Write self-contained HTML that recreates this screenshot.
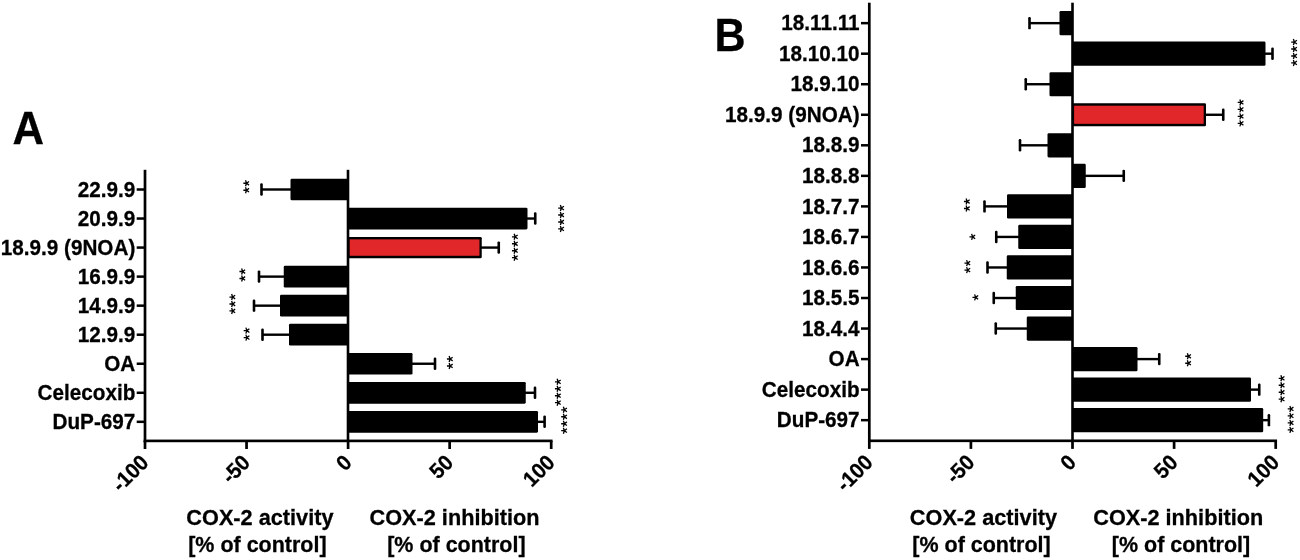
<!DOCTYPE html>
<html><head><meta charset="utf-8"><title>COX-2 activity / inhibition</title>
<style>html,body{margin:0;padding:0;background:#fff;}body{width:1300px;height:560px;overflow:hidden;}svg{display:block;will-change:transform;} svg text{font-family:"Liberation Sans", sans-serif;font-weight:700;fill:#000;stroke:#000;stroke-width:0.28px;} svg text.st{font-weight:400;stroke:#000;stroke-width:0.35px;}</style></head><body>
<svg width="1300" height="560" viewBox="0 0 1300 560">
<rect x="0" y="0" width="1300" height="560" fill="#ffffff"/>
<g id="panelA">
<rect x="261.50" y="188.30" width="30.00" height="2.40" fill="#000" />
<rect x="260.20" y="183.30" width="2.60" height="12.40" fill="#000" rx="1.2"/>
<rect x="290.50" y="178.65" width="57.50" height="21.70" fill="#000" rx="1.3"/>
<path d="M246.50 183.27L243.35 183.27M246.50 183.27L245.53 180.27M246.50 183.27L249.05 181.42M246.50 183.27L249.05 185.12M246.50 183.27L245.53 186.27M246.50 190.23L243.35 190.23M246.50 190.23L245.53 187.23M246.50 190.23L249.05 188.38M246.50 190.23L249.05 192.08M246.50 190.23L245.53 193.23" stroke="#000" stroke-width="1.3" fill="none"/>
<rect x="526.50" y="217.34" width="8.75" height="2.40" fill="#000" />
<rect x="533.95" y="212.34" width="2.60" height="12.40" fill="#000" rx="1.2"/>
<rect x="348.00" y="207.69" width="179.50" height="21.70" fill="#000" rx="1.3"/>
<path d="M561.35 208.06L558.20 208.06M561.35 208.06L560.38 205.06M561.35 208.06L563.90 206.21M561.35 208.06L563.90 209.91M561.35 208.06L560.38 211.06M561.35 215.02L558.20 215.02M561.35 215.02L560.38 212.02M561.35 215.02L563.90 213.17M561.35 215.02L563.90 216.87M561.35 215.02L560.38 218.02M561.35 221.98L558.20 221.98M561.35 221.98L560.38 218.98M561.35 221.98L563.90 220.13M561.35 221.98L563.90 223.83M561.35 221.98L560.38 224.98M561.35 228.94L558.20 228.94M561.35 228.94L560.38 225.94M561.35 228.94L563.90 227.09M561.35 228.94L563.90 230.79M561.35 228.94L560.38 231.94" stroke="#000" stroke-width="1.3" fill="none"/>
<rect x="480.75" y="246.38" width="18.00" height="2.40" fill="#000" />
<rect x="497.45" y="241.38" width="2.60" height="12.40" fill="#000" rx="1.2"/>
<rect x="348.00" y="236.88" width="133.75" height="21.40" fill="#000" rx="1.3"/>
<rect x="349.60" y="239.38" width="129.85" height="16.40" fill="#e2272a" />
<path d="M515.10 236.81L511.95 236.81M515.10 236.81L514.13 233.81M515.10 236.81L517.65 234.96M515.10 236.81L517.65 238.66M515.10 236.81L514.13 239.81M515.10 243.77L511.95 243.77M515.10 243.77L514.13 240.77M515.10 243.77L517.65 241.92M515.10 243.77L517.65 245.62M515.10 243.77L514.13 246.77M515.10 250.73L511.95 250.73M515.10 250.73L514.13 247.73M515.10 250.73L517.65 248.88M515.10 250.73L517.65 252.58M515.10 250.73L514.13 253.73M515.10 257.69L511.95 257.69M515.10 257.69L514.13 254.69M515.10 257.69L517.65 255.84M515.10 257.69L517.65 259.54M515.10 257.69L514.13 260.69" stroke="#000" stroke-width="1.3" fill="none"/>
<rect x="259.00" y="275.42" width="25.75" height="2.40" fill="#000" />
<rect x="257.70" y="270.42" width="2.60" height="12.40" fill="#000" rx="1.2"/>
<rect x="283.75" y="265.77" width="64.25" height="21.70" fill="#000" rx="1.3"/>
<path d="M242.60 271.52L239.45 271.52M242.60 271.52L241.63 268.52M242.60 271.52L245.15 269.67M242.60 271.52L245.15 273.37M242.60 271.52L241.63 274.52M242.60 278.48L239.45 278.48M242.60 278.48L241.63 275.48M242.60 278.48L245.15 276.63M242.60 278.48L245.15 280.33M242.60 278.48L241.63 281.48" stroke="#000" stroke-width="1.3" fill="none"/>
<rect x="254.00" y="304.46" width="27.00" height="2.40" fill="#000" />
<rect x="252.70" y="299.46" width="2.60" height="12.40" fill="#000" rx="1.2"/>
<rect x="280.00" y="294.81" width="68.00" height="21.70" fill="#000" rx="1.3"/>
<path d="M232.60 297.04L229.45 297.04M232.60 297.04L231.63 294.04M232.60 297.04L235.15 295.19M232.60 297.04L235.15 298.89M232.60 297.04L231.63 300.04M232.60 304.00L229.45 304.00M232.60 304.00L231.63 301.00M232.60 304.00L235.15 302.15M232.60 304.00L235.15 305.85M232.60 304.00L231.63 307.00M232.60 310.96L229.45 310.96M232.60 310.96L231.63 307.96M232.60 310.96L235.15 309.11M232.60 310.96L235.15 312.81M232.60 310.96L231.63 313.96" stroke="#000" stroke-width="1.3" fill="none"/>
<rect x="262.50" y="333.50" width="27.50" height="2.40" fill="#000" />
<rect x="261.20" y="328.50" width="2.60" height="12.40" fill="#000" rx="1.2"/>
<rect x="289.00" y="323.85" width="59.00" height="21.70" fill="#000" rx="1.3"/>
<path d="M246.85 330.62L243.70 330.62M246.85 330.62L245.88 327.62M246.85 330.62L249.40 328.77M246.85 330.62L249.40 332.47M246.85 330.62L245.88 333.62M246.85 337.58L243.70 337.58M246.85 337.58L245.88 334.58M246.85 337.58L249.40 335.73M246.85 337.58L249.40 339.43M246.85 337.58L245.88 340.58" stroke="#000" stroke-width="1.3" fill="none"/>
<rect x="411.50" y="362.54" width="23.50" height="2.40" fill="#000" />
<rect x="433.70" y="357.54" width="2.60" height="12.40" fill="#000" rx="1.2"/>
<rect x="348.00" y="352.89" width="64.50" height="21.70" fill="#000" rx="1.3"/>
<path d="M450.10 359.02L446.95 359.02M450.10 359.02L449.13 356.02M450.10 359.02L452.65 357.17M450.10 359.02L452.65 360.87M450.10 359.02L449.13 362.02M450.10 365.98L446.95 365.98M450.10 365.98L449.13 362.98M450.10 365.98L452.65 364.13M450.10 365.98L452.65 367.83M450.10 365.98L449.13 368.98" stroke="#000" stroke-width="1.3" fill="none"/>
<rect x="524.75" y="391.58" width="10.25" height="2.40" fill="#000" />
<rect x="533.70" y="386.58" width="2.60" height="12.40" fill="#000" rx="1.2"/>
<rect x="348.00" y="381.93" width="177.75" height="21.70" fill="#000" rx="1.3"/>
<path d="M558.10 381.81L554.95 381.81M558.10 381.81L557.13 378.81M558.10 381.81L560.65 379.96M558.10 381.81L560.65 383.66M558.10 381.81L557.13 384.81M558.10 388.77L554.95 388.77M558.10 388.77L557.13 385.77M558.10 388.77L560.65 386.92M558.10 388.77L560.65 390.62M558.10 388.77L557.13 391.77M558.10 395.73L554.95 395.73M558.10 395.73L557.13 392.73M558.10 395.73L560.65 393.88M558.10 395.73L560.65 397.58M558.10 395.73L557.13 398.73M558.10 402.69L554.95 402.69M558.10 402.69L557.13 399.69M558.10 402.69L560.65 400.84M558.10 402.69L560.65 404.54M558.10 402.69L557.13 405.69" stroke="#000" stroke-width="1.3" fill="none"/>
<rect x="537.00" y="420.62" width="7.60" height="2.40" fill="#000" />
<rect x="543.30" y="415.62" width="2.60" height="12.40" fill="#000" rx="1.2"/>
<rect x="348.00" y="410.97" width="190.00" height="21.70" fill="#000" rx="1.3"/>
<path d="M564.35 409.81L561.20 409.81M564.35 409.81L563.38 406.81M564.35 409.81L566.90 407.96M564.35 409.81L566.90 411.66M564.35 409.81L563.38 412.81M564.35 416.77L561.20 416.77M564.35 416.77L563.38 413.77M564.35 416.77L566.90 414.92M564.35 416.77L566.90 418.62M564.35 416.77L563.38 419.77M564.35 423.73L561.20 423.73M564.35 423.73L563.38 420.73M564.35 423.73L566.90 421.88M564.35 423.73L566.90 425.58M564.35 423.73L563.38 426.73M564.35 430.69L561.20 430.69M564.35 430.69L563.38 427.69M564.35 430.69L566.90 428.84M564.35 430.69L566.90 432.54M564.35 430.69L563.38 433.69" stroke="#000" stroke-width="1.3" fill="none"/>
<rect x="143.65" y="169.80" width="2.70" height="272.40" fill="#000" />
<rect x="346.70" y="169.80" width="2.60" height="271.10" fill="#000" />
<rect x="143.70" y="439.57" width="408.85" height="2.65" fill="#000" />
<rect x="136.70" y="188.25" width="8.30" height="2.50" fill="#000" />
<text transform="translate(135.30,196.65) scale(1,1.045)" font-size="20.7" text-anchor="end" >22.9.9</text>
<rect x="136.70" y="217.29" width="8.30" height="2.50" fill="#000" />
<text transform="translate(135.30,225.69) scale(1,1.045)" font-size="20.7" text-anchor="end" >20.9.9</text>
<rect x="136.70" y="246.33" width="8.30" height="2.50" fill="#000" />
<text transform="translate(135.30,254.73) scale(1,1.045)" font-size="20.7" text-anchor="end" >18.9.9 (9NOA)</text>
<rect x="136.70" y="275.37" width="8.30" height="2.50" fill="#000" />
<text transform="translate(135.30,283.77) scale(1,1.045)" font-size="20.7" text-anchor="end" >16.9.9</text>
<rect x="136.70" y="304.41" width="8.30" height="2.50" fill="#000" />
<text transform="translate(135.30,312.81) scale(1,1.045)" font-size="20.7" text-anchor="end" >14.9.9</text>
<rect x="136.70" y="333.45" width="8.30" height="2.50" fill="#000" />
<text transform="translate(135.30,341.85) scale(1,1.045)" font-size="20.7" text-anchor="end" >12.9.9</text>
<rect x="136.70" y="362.49" width="8.30" height="2.50" fill="#000" />
<text transform="translate(135.30,370.89) scale(1,1.045)" font-size="20.7" text-anchor="end" >OA</text>
<rect x="136.70" y="391.53" width="8.30" height="2.50" fill="#000" />
<text transform="translate(135.30,399.93) scale(1,1.045)" font-size="20.7" text-anchor="end" >Celecoxib</text>
<rect x="136.70" y="420.57" width="8.30" height="2.50" fill="#000" />
<text transform="translate(135.30,428.97) scale(1,1.045)" font-size="20.7" text-anchor="end" >DuP-697</text>
<rect x="143.65" y="440.90" width="2.70" height="8.10" fill="#000" />
<text transform="translate(149.90,463.80) rotate(-45) scale(1,1.045)" font-size="20.6" text-anchor="end">-100</text>
<rect x="245.20" y="440.90" width="2.70" height="8.10" fill="#000" />
<text transform="translate(251.45,463.80) rotate(-45) scale(1,1.045)" font-size="20.6" text-anchor="end">-50</text>
<rect x="346.75" y="440.90" width="2.70" height="8.10" fill="#000" />
<text transform="translate(353.00,463.80) rotate(-45) scale(1,1.045)" font-size="20.6" text-anchor="end">0</text>
<rect x="448.30" y="440.90" width="2.70" height="8.10" fill="#000" />
<text transform="translate(454.55,463.80) rotate(-45) scale(1,1.045)" font-size="20.6" text-anchor="end">50</text>
<rect x="549.85" y="440.90" width="2.70" height="8.10" fill="#000" />
<text transform="translate(556.10,463.80) rotate(-45) scale(1,1.045)" font-size="20.6" text-anchor="end">100</text>
<text transform="translate(259.90,524.90) scale(1,1.045)" font-size="21.7" text-anchor="middle" >COX-2 activity</text>
<text transform="translate(257.40,552.00) scale(1,1.045)" font-size="21.5" text-anchor="middle" >[% of control]</text>
<text transform="translate(454.50,524.90) scale(1,1.045)" font-size="21.7" text-anchor="middle" >COX-2 inhibition</text>
<text transform="translate(456.40,552.00) scale(1,1.045)" font-size="21.5" text-anchor="middle" >[% of control]</text>
<text transform="translate(12.60,143.70) scale(0.95,1)" font-size="46">A</text>
</g>
<g id="panelB">
<rect x="1029.50" y="21.95" width="31.00" height="2.40" fill="#000" />
<rect x="1028.20" y="16.95" width="2.60" height="12.40" fill="#000" rx="1.2"/>
<rect x="1059.50" y="11.05" width="13.00" height="24.20" fill="#000" rx="1.3"/>
<rect x="1264.50" y="52.49" width="8.00" height="2.40" fill="#000" />
<rect x="1271.20" y="47.49" width="2.60" height="12.40" fill="#000" rx="1.2"/>
<rect x="1072.50" y="41.59" width="193.00" height="24.20" fill="#000" rx="1.3"/>
<path d="M1294.35 42.06L1291.20 42.06M1294.35 42.06L1293.38 39.06M1294.35 42.06L1296.90 40.21M1294.35 42.06L1296.90 43.91M1294.35 42.06L1293.38 45.06M1294.35 49.02L1291.20 49.02M1294.35 49.02L1293.38 46.02M1294.35 49.02L1296.90 47.17M1294.35 49.02L1296.90 50.87M1294.35 49.02L1293.38 52.02M1294.35 55.98L1291.20 55.98M1294.35 55.98L1293.38 52.98M1294.35 55.98L1296.90 54.13M1294.35 55.98L1296.90 57.83M1294.35 55.98L1293.38 58.98M1294.35 62.94L1291.20 62.94M1294.35 62.94L1293.38 59.94M1294.35 62.94L1296.90 61.09M1294.35 62.94L1296.90 64.79M1294.35 62.94L1293.38 65.94" stroke="#000" stroke-width="1.3" fill="none"/>
<rect x="1025.75" y="83.03" width="24.75" height="2.40" fill="#000" />
<rect x="1024.45" y="78.03" width="2.60" height="12.40" fill="#000" rx="1.2"/>
<rect x="1049.50" y="72.13" width="23.00" height="24.20" fill="#000" rx="1.3"/>
<rect x="1205.00" y="113.57" width="18.25" height="2.40" fill="#000" />
<rect x="1221.95" y="108.57" width="2.60" height="12.40" fill="#000" rx="1.2"/>
<rect x="1072.50" y="103.22" width="133.50" height="23.10" fill="#000" rx="1.3"/>
<rect x="1074.10" y="105.72" width="129.60" height="18.10" fill="#e2272a" />
<path d="M1240.85 102.46L1237.70 102.46M1240.85 102.46L1239.88 99.46M1240.85 102.46L1243.40 100.61M1240.85 102.46L1243.40 104.31M1240.85 102.46L1239.88 105.46M1240.85 109.42L1237.70 109.42M1240.85 109.42L1239.88 106.42M1240.85 109.42L1243.40 107.57M1240.85 109.42L1243.40 111.27M1240.85 109.42L1239.88 112.42M1240.85 116.38L1237.70 116.38M1240.85 116.38L1239.88 113.38M1240.85 116.38L1243.40 114.53M1240.85 116.38L1243.40 118.23M1240.85 116.38L1239.88 119.38M1240.85 123.34L1237.70 123.34M1240.85 123.34L1239.88 120.34M1240.85 123.34L1243.40 121.49M1240.85 123.34L1243.40 125.19M1240.85 123.34L1239.88 126.34" stroke="#000" stroke-width="1.3" fill="none"/>
<rect x="1020.00" y="144.11" width="28.50" height="2.40" fill="#000" />
<rect x="1018.70" y="139.11" width="2.60" height="12.40" fill="#000" rx="1.2"/>
<rect x="1047.50" y="133.21" width="25.00" height="24.20" fill="#000" rx="1.3"/>
<rect x="1084.75" y="174.65" width="39.00" height="2.40" fill="#000" />
<rect x="1122.45" y="169.65" width="2.60" height="12.40" fill="#000" rx="1.2"/>
<rect x="1072.50" y="163.75" width="13.25" height="24.20" fill="#000" rx="1.3"/>
<rect x="984.50" y="205.19" width="23.50" height="2.40" fill="#000" />
<rect x="983.20" y="200.19" width="2.60" height="12.40" fill="#000" rx="1.2"/>
<rect x="1007.00" y="194.29" width="65.50" height="24.20" fill="#000" rx="1.3"/>
<path d="M967.10 201.52L963.95 201.52M967.10 201.52L966.13 198.52M967.10 201.52L969.65 199.67M967.10 201.52L969.65 203.37M967.10 201.52L966.13 204.52M967.10 208.48L963.95 208.48M967.10 208.48L966.13 205.48M967.10 208.48L969.65 206.63M967.10 208.48L969.65 210.33M967.10 208.48L966.13 211.48" stroke="#000" stroke-width="1.3" fill="none"/>
<rect x="996.25" y="235.73" width="23.00" height="2.40" fill="#000" />
<rect x="994.95" y="230.73" width="2.60" height="12.40" fill="#000" rx="1.2"/>
<rect x="1018.25" y="224.83" width="54.25" height="24.20" fill="#000" rx="1.3"/>
<path d="M972.60 236.90L969.45 236.90M972.60 236.90L971.63 233.90M972.60 236.90L975.15 235.05M972.60 236.90L975.15 238.75M972.60 236.90L971.63 239.90" stroke="#000" stroke-width="1.3" fill="none"/>
<rect x="987.50" y="266.27" width="20.25" height="2.40" fill="#000" />
<rect x="986.20" y="261.27" width="2.60" height="12.40" fill="#000" rx="1.2"/>
<rect x="1006.75" y="255.37" width="65.75" height="24.20" fill="#000" rx="1.3"/>
<path d="M967.60 263.12L964.45 263.12M967.60 263.12L966.63 260.12M967.60 263.12L970.15 261.27M967.60 263.12L970.15 264.97M967.60 263.12L966.63 266.12M967.60 270.08L964.45 270.08M967.60 270.08L966.63 267.08M967.60 270.08L970.15 268.23M967.60 270.08L970.15 271.93M967.60 270.08L966.63 273.08" stroke="#000" stroke-width="1.3" fill="none"/>
<rect x="993.75" y="296.81" width="23.00" height="2.40" fill="#000" />
<rect x="992.45" y="291.81" width="2.60" height="12.40" fill="#000" rx="1.2"/>
<rect x="1015.75" y="285.91" width="56.75" height="24.20" fill="#000" rx="1.3"/>
<path d="M975.60 297.40L972.45 297.40M975.60 297.40L974.63 294.40M975.60 297.40L978.15 295.55M975.60 297.40L978.15 299.25M975.60 297.40L974.63 300.40" stroke="#000" stroke-width="1.3" fill="none"/>
<rect x="995.75" y="327.35" width="32.00" height="2.40" fill="#000" />
<rect x="994.45" y="322.35" width="2.60" height="12.40" fill="#000" rx="1.2"/>
<rect x="1026.75" y="316.45" width="45.75" height="24.20" fill="#000" rx="1.3"/>
<rect x="1136.50" y="357.89" width="22.75" height="2.40" fill="#000" />
<rect x="1157.95" y="352.89" width="2.60" height="12.40" fill="#000" rx="1.2"/>
<rect x="1072.50" y="346.99" width="65.00" height="24.20" fill="#000" rx="1.3"/>
<path d="M1188.35 356.27L1185.20 356.27M1188.35 356.27L1187.38 353.27M1188.35 356.27L1190.90 354.42M1188.35 356.27L1190.90 358.12M1188.35 356.27L1187.38 359.27M1188.35 363.23L1185.20 363.23M1188.35 363.23L1187.38 360.23M1188.35 363.23L1190.90 361.38M1188.35 363.23L1190.90 365.08M1188.35 363.23L1187.38 366.23" stroke="#000" stroke-width="1.3" fill="none"/>
<rect x="1250.00" y="388.43" width="9.25" height="2.40" fill="#000" />
<rect x="1257.95" y="383.43" width="2.60" height="12.40" fill="#000" rx="1.2"/>
<rect x="1072.50" y="377.53" width="178.50" height="24.20" fill="#000" rx="1.3"/>
<path d="M1281.85 378.31L1278.70 378.31M1281.85 378.31L1280.88 375.31M1281.85 378.31L1284.40 376.46M1281.85 378.31L1284.40 380.16M1281.85 378.31L1280.88 381.31M1281.85 385.27L1278.70 385.27M1281.85 385.27L1280.88 382.27M1281.85 385.27L1284.40 383.42M1281.85 385.27L1284.40 387.12M1281.85 385.27L1280.88 388.27M1281.85 392.23L1278.70 392.23M1281.85 392.23L1280.88 389.23M1281.85 392.23L1284.40 390.38M1281.85 392.23L1284.40 394.08M1281.85 392.23L1280.88 395.23M1281.85 399.19L1278.70 399.19M1281.85 399.19L1280.88 396.19M1281.85 399.19L1284.40 397.34M1281.85 399.19L1284.40 401.04M1281.85 399.19L1280.88 402.19" stroke="#000" stroke-width="1.3" fill="none"/>
<rect x="1262.20" y="418.97" width="6.70" height="2.40" fill="#000" />
<rect x="1267.60" y="413.97" width="2.60" height="12.40" fill="#000" rx="1.2"/>
<rect x="1072.50" y="408.07" width="190.70" height="24.20" fill="#000" rx="1.3"/>
<path d="M1290.85 408.96L1287.70 408.96M1290.85 408.96L1289.88 405.96M1290.85 408.96L1293.40 407.11M1290.85 408.96L1293.40 410.81M1290.85 408.96L1289.88 411.96M1290.85 415.92L1287.70 415.92M1290.85 415.92L1289.88 412.92M1290.85 415.92L1293.40 414.07M1290.85 415.92L1293.40 417.77M1290.85 415.92L1289.88 418.92M1290.85 422.88L1287.70 422.88M1290.85 422.88L1289.88 419.88M1290.85 422.88L1293.40 421.03M1290.85 422.88L1293.40 424.73M1290.85 422.88L1289.88 425.88M1290.85 429.84L1287.70 429.84M1290.85 429.84L1289.88 426.84M1290.85 429.84L1293.40 427.99M1290.85 429.84L1293.40 431.69M1290.85 429.84L1289.88 432.84" stroke="#000" stroke-width="1.3" fill="none"/>
<rect x="867.95" y="2.70" width="2.70" height="439.40" fill="#000" />
<rect x="1071.20" y="2.70" width="2.60" height="438.10" fill="#000" />
<rect x="868.00" y="439.48" width="409.05" height="2.65" fill="#000" />
<rect x="861.00" y="21.90" width="8.30" height="2.50" fill="#000" />
<text transform="translate(859.60,30.30) scale(1,1.045)" font-size="20.7" text-anchor="end" >18.11.11</text>
<rect x="861.00" y="52.44" width="8.30" height="2.50" fill="#000" />
<text transform="translate(859.60,60.84) scale(1,1.045)" font-size="20.7" text-anchor="end" >18.10.10</text>
<rect x="861.00" y="82.98" width="8.30" height="2.50" fill="#000" />
<text transform="translate(859.60,91.38) scale(1,1.045)" font-size="20.7" text-anchor="end" >18.9.10</text>
<rect x="861.00" y="113.52" width="8.30" height="2.50" fill="#000" />
<text transform="translate(859.60,121.92) scale(1,1.045)" font-size="20.7" text-anchor="end" >18.9.9 (9NOA)</text>
<rect x="861.00" y="144.06" width="8.30" height="2.50" fill="#000" />
<text transform="translate(859.60,152.46) scale(1,1.045)" font-size="20.7" text-anchor="end" >18.8.9</text>
<rect x="861.00" y="174.60" width="8.30" height="2.50" fill="#000" />
<text transform="translate(859.60,183.00) scale(1,1.045)" font-size="20.7" text-anchor="end" >18.8.8</text>
<rect x="861.00" y="205.14" width="8.30" height="2.50" fill="#000" />
<text transform="translate(859.60,213.54) scale(1,1.045)" font-size="20.7" text-anchor="end" >18.7.7</text>
<rect x="861.00" y="235.68" width="8.30" height="2.50" fill="#000" />
<text transform="translate(859.60,244.08) scale(1,1.045)" font-size="20.7" text-anchor="end" >18.6.7</text>
<rect x="861.00" y="266.22" width="8.30" height="2.50" fill="#000" />
<text transform="translate(859.60,274.62) scale(1,1.045)" font-size="20.7" text-anchor="end" >18.6.6</text>
<rect x="861.00" y="296.76" width="8.30" height="2.50" fill="#000" />
<text transform="translate(859.60,305.16) scale(1,1.045)" font-size="20.7" text-anchor="end" >18.5.5</text>
<rect x="861.00" y="327.30" width="8.30" height="2.50" fill="#000" />
<text transform="translate(859.60,335.70) scale(1,1.045)" font-size="20.7" text-anchor="end" >18.4.4</text>
<rect x="861.00" y="357.84" width="8.30" height="2.50" fill="#000" />
<text transform="translate(859.60,366.24) scale(1,1.045)" font-size="20.7" text-anchor="end" >OA</text>
<rect x="861.00" y="388.38" width="8.30" height="2.50" fill="#000" />
<text transform="translate(859.60,396.78) scale(1,1.045)" font-size="20.7" text-anchor="end" >Celecoxib</text>
<rect x="861.00" y="418.92" width="8.30" height="2.50" fill="#000" />
<text transform="translate(859.60,427.32) scale(1,1.045)" font-size="20.7" text-anchor="end" >DuP-697</text>
<rect x="867.95" y="440.80" width="2.70" height="8.10" fill="#000" />
<text transform="translate(874.20,463.70) rotate(-45) scale(1,1.045)" font-size="20.6" text-anchor="end">-100</text>
<rect x="969.55" y="440.80" width="2.70" height="8.10" fill="#000" />
<text transform="translate(975.80,463.70) rotate(-45) scale(1,1.045)" font-size="20.6" text-anchor="end">-50</text>
<rect x="1071.15" y="440.80" width="2.70" height="8.10" fill="#000" />
<text transform="translate(1077.40,463.70) rotate(-45) scale(1,1.045)" font-size="20.6" text-anchor="end">0</text>
<rect x="1172.75" y="440.80" width="2.70" height="8.10" fill="#000" />
<text transform="translate(1179.00,463.70) rotate(-45) scale(1,1.045)" font-size="20.6" text-anchor="end">50</text>
<rect x="1274.35" y="440.80" width="2.70" height="8.10" fill="#000" />
<text transform="translate(1280.60,463.70) rotate(-45) scale(1,1.045)" font-size="20.6" text-anchor="end">100</text>
<text transform="translate(983.40,524.90) scale(1,1.045)" font-size="21.7" text-anchor="middle" >COX-2 activity</text>
<text transform="translate(981.50,552.00) scale(1,1.045)" font-size="21.5" text-anchor="middle" >[% of control]</text>
<text transform="translate(1178.20,524.90) scale(1,1.045)" font-size="21.7" text-anchor="middle" >COX-2 inhibition</text>
<text transform="translate(1181.00,552.00) scale(1,1.045)" font-size="21.5" text-anchor="middle" >[% of control]</text>
<text transform="translate(714.60,51.30) scale(0.935,1)" font-size="46">B</text>
</g>
</svg></body></html>
